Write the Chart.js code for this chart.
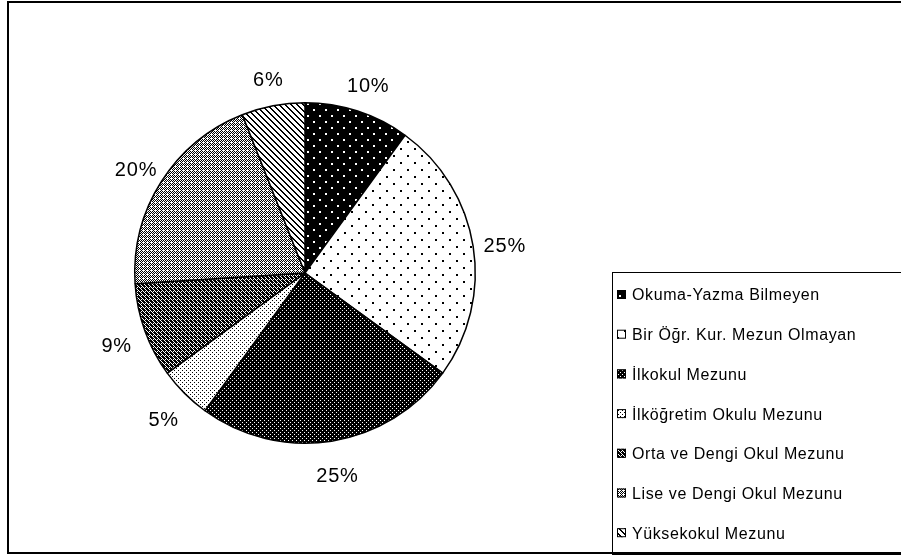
<!DOCTYPE html>
<html>
<head>
<meta charset="utf-8">
<script src="https://cdn.jsdelivr.net/npm/chart.js@4.4.1/dist/chart.umd.min.js"></script>
<style>
  html, body { margin: 0; padding: 0; background: #fff; overflow: hidden; }
  #wrap { width: 901px; height: 556px; position: relative; }
</style>
</head>
<body>
<div id="wrap"><canvas id="pie" width="901" height="556"></canvas></div>
<script>
// --- data ---
const categories = [
  'Okuma-Yazma Bilmeyen',
  'Bir Öğr. Kur. Mezun Olmayan',
  'İlkokul Mezunu',
  'İlköğretim Okulu Mezunu',
  'Orta ve Dengi Okul Mezunu',
  'Lise ve Dengi Okul Mezunu',
  'Yüksekokul Mezunu'
];
const shares = [10, 25, 25, 5, 9, 20, 6];
const shareLabels = shares.map(v => v + '%');

// --- fill patterns: '1' = black pixel, '0' = white pixel ---
const bitmaps = [
  // black, sparse white dots
  ['111111111111', '100111111111', '100111111111', '111111111111',
   '111111111111', '111111111111', '111111111111', '111111100111',
   '111111100111', '111111111111', '111111111111', '111111111111'],
  // white, sparse black dots
  ['00000000000000', '01100000000000', '01100000000000', '00000000000000',
   '00000000000000', '00000000000000', '00000000000000', '00000000000000',
   '00000000110000', '00000000110000', '00000000000000', '00000000000000',
   '00000000000000', '00000000000000'],
  // black, dense white dots
  ['0111', '1111', '1101', '1111'],
  // white, dense black dots
  ['1000', '0000', '0010', '0000'],
  // dark cross-hatch
  ['0111', '1011', '1101', '1010'],
  // light cross-hatch
  ['0101', '1010', '0100', '1010'],
  // diagonal stripes
  ['110000', '011000', '001100', '000110', '000011', '100001']
];

function makePattern(rows) {
  const h = rows.length, w = rows[0].length;
  const c = document.createElement('canvas');
  c.width = w; c.height = h;
  const g = c.getContext('2d');
  g.fillStyle = '#fff';
  g.fillRect(0, 0, w, h);
  g.fillStyle = '#000';
  rows.forEach((r, y) => {
    for (let x = 0; x < w; x++) if (r[x] === '1') g.fillRect(x, y, 1, 1);
  });
  return g.createPattern(c, 'repeat');
}

const ctx = document.getElementById('pie').getContext('2d');
const fills = bitmaps.map(makePattern);

// frame + legend box drawn on the canvas
const framePlugin = {
  id: 'frame',
  beforeDraw(chart) {
    const g = chart.ctx;
    g.save();
    g.fillStyle = '#fff';
    g.fillRect(0, 0, chart.width, chart.height);
    g.strokeStyle = '#000';
    g.lineWidth = 2;
    g.strokeRect(8, 2, 900, 551);
    g.restore();
  },
  afterDraw(chart) {
    const g = chart.ctx;
    g.save();
    g.strokeStyle = '#000';
    g.lineWidth = 1;
    g.strokeRect(612.5, 272.5, 300, 282);
    const y0 = 295, step = 39.7;
    g.font = '16px "Liberation Sans", Arial, sans-serif';
    g.letterSpacing = '0.6px';
    g.textBaseline = 'middle';
    categories.forEach((name, i) => {
      const y = y0 + i * step;
      g.fillStyle = fills[i];
      g.fillRect(617, y - 5, 9, 9);
      g.strokeRect(617.5, y - 4.5, 8, 8);
      g.fillStyle = '#000';
      g.fillText(name, 632, y + 1);
    });
    g.restore();
  }
};

// percent labels outside the slices
const labelPlugin = {
  id: 'sliceLabels',
  afterDatasetsDraw(chart) {
    const g = chart.ctx;
    const arcs = chart.getDatasetMeta(0).data;
    g.save();
    g.fillStyle = '#000';
    g.font = '20px "Liberation Sans", Arial, sans-serif';
    g.letterSpacing = '0.8px';
    g.textAlign = 'center';
    g.textBaseline = 'middle';
    arcs.forEach((arc, i) => {
      const p = arc.getProps(['x', 'y', 'startAngle', 'endAngle', 'outerRadius'], true);
      const mid = (p.startAngle + p.endAngle) / 2;
      const r = p.outerRadius + 31;
      const x = p.x + Math.cos(mid) * r + 1;
      const y = p.y + Math.sin(mid) * r + 5;
      g.fillText(shareLabels[i], x, y);
    });
    g.restore();
  }
};

new Chart(ctx, {
  type: 'pie',
  data: {
    labels: categories,
    datasets: [{
      data: shares,
      backgroundColor: fills,
      borderColor: '#000',
      borderWidth: 1.5
    }]
  },
  options: {
    responsive: false,
    animation: false,
    layout: { padding: { left: 133, right: 424, top: 102, bottom: 112 } },
    plugins: {
      legend: { display: false },
      tooltip: { enabled: false }
    }
  },
  plugins: [framePlugin, labelPlugin]
});
</script>
</body>
</html>
